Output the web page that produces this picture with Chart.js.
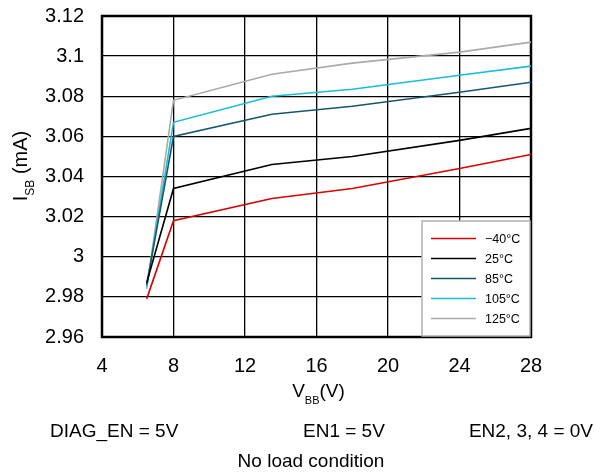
<!DOCTYPE html>
<html>
<head>
<meta charset="utf-8">
<script src="https://cdn.jsdelivr.net/npm/chart.js@4"></script>
<style>
  html, body { margin: 0; padding: 0; background: #fff; }
  #wrap { width: 595px; height: 474px; position: relative; }
</style>
</head>
<body>
<div id="wrap"><canvas id="c" width="595" height="474"></canvas></div>
<script>
// supply voltage, V
const vbb = [6.5, 8, 13.5, 18, 24, 28];
// standby current, mA
const iM40 = [2.979, 3.018, 3.029, 3.034, 3.044, 3.051];
const i25 = [2.987, 3.034, 3.046, 3.050, 3.058, 3.064];
const i85 = [2.986, 3.060, 3.071, 3.075, 3.082, 3.087];
const i105 = [2.985, 3.067, 3.080, 3.0835, 3.0905, 3.095];
const i125 = [2.984, 3.078, 3.091, 3.0965, 3.102, 3.107];

const seriesNames = ['\u221240\u00b0C', '25\u00b0C', '85\u00b0C', '105\u00b0C', '125\u00b0C'];
const seriesColors = ['#d90000', '#000000', '#17566b', '#16bfd6', '#aaaaaa'];

const xTicks = [4, 8, 12, 16, 20, 24, 28];
const yTicks = [2.96, 2.98, 3, 3.02, 3.04, 3.06, 3.08, 3.1, 3.12];

const FONT = "'Liberation Sans', Arial, sans-serif";

const pts = ys => vbb.map((x, i) => ({ x, y: ys[i] }));

// text with a subscript piece: [main, sub, rest]
function subText(ctx, parts, size, subSize) {
  const [a, b, c] = parts;
  ctx.font = `${size}px ${FONT}`;
  const wa = ctx.measureText(a).width, wc = ctx.measureText(c).width;
  ctx.font = `${subSize}px ${FONT}`;
  const wb = ctx.measureText(b).width;
  return { w: wa + wb + wc, draw(x, y) {
    ctx.textAlign = 'left';
    ctx.textBaseline = 'alphabetic';
    ctx.font = `${size}px ${FONT}`;
    ctx.fillText(a, x, y);
    ctx.font = `${subSize}px ${FONT}`;
    ctx.fillText(b, x + wa, y + 7);
    ctx.font = `${size}px ${FONT}`;
    ctx.fillText(c, x + wa + wb, y);
  } };
}

const extras = {
  id: 'extras',
  beforeDatasetsDraw(chart) {
    const { ctx, chartArea: a } = chart;
    ctx.save();
    ctx.strokeStyle = '#000';
    ctx.lineWidth = 2.5;
    ctx.strokeRect(a.left, a.top, a.right - a.left, a.bottom - a.top);
    ctx.restore();
  },
  afterDraw(chart) {
    const { ctx, chartArea: a } = chart;
    ctx.save();
    ctx.fillStyle = '#000';

    // axis titles
    const xt = subText(ctx, ['V', 'BB', '(V)'], 19, 11);
    xt.draw((a.left + a.right) / 2 - xt.w / 2 + 2, 397);
    ctx.save();
    ctx.translate(27, 166);
    ctx.rotate(-Math.PI / 2);
    const yt = subText(ctx, ['I', 'SB', ' (mA)'], 20, 12);
    yt.draw(-yt.w / 2, 0);
    ctx.restore();

    // conditions
    ctx.font = `19px ${FONT}`;
    ctx.textBaseline = 'alphabetic';
    ctx.textAlign = 'left';
    ctx.fillText('DIAG_EN = 5V', 50, 437);
    ctx.fillText('EN1 = 5V', 303, 437);
    ctx.textAlign = 'right';
    ctx.fillText('EN2, 3, 4 = 0V', 593, 437);
    ctx.textAlign = 'center';
    ctx.fillText('No load condition', 311, 467);

    // legend
    const bx = 422, by = 221, bw = a.right - bx - 1, bh = a.bottom - by - 1;
    ctx.fillStyle = '#fff';
    ctx.fillRect(bx, by, bw, bh);
    ctx.strokeStyle = '#b0b0b0';
    ctx.lineWidth = 1.5;
    ctx.strokeRect(bx, by, bw, bh);
    ctx.font = `12.5px ${FONT}`;
    ctx.textAlign = 'left';
    ctx.textBaseline = 'middle';
    chart.data.datasets.forEach((ds, i) => {
      const y = 238.5 + i * 20;
      ctx.strokeStyle = ds.borderColor;
      ctx.lineWidth = 1.5;
      ctx.beginPath();
      ctx.moveTo(431, y);
      ctx.lineTo(476, y);
      ctx.stroke();
      ctx.fillStyle = '#000';
      ctx.fillText(ds.label, 485, y + 1);
    });
    ctx.restore();
  }
};

const allSeries = [iM40, i25, i85, i105, i125];

new Chart(document.getElementById('c'), {
  type: 'line',
  data: {
    datasets: allSeries.map((ys, i) => ({
      label: seriesNames[i],
      data: pts(ys),
      borderColor: seriesColors[i],
      borderWidth: 1.6,
      pointRadius: 0,
      tension: 0,
      fill: false,
    })),
  },
  options: {
    responsive: false,
    animation: false,
    layout: { padding: { top: 16, right: 64, left: 0, bottom: 0 } },
    plugins: { legend: { display: false }, tooltip: { enabled: false } },
    scales: {
      x: {
        type: 'linear',
        min: xTicks[0],
        max: xTicks[xTicks.length - 1],
        afterFit: s => { s.height = 137; s.paddingLeft = 0; s.paddingRight = 0; },
        afterBuildTicks: s => { s.ticks = xTicks.map(v => ({ value: v })); },
        ticks: { font: { family: FONT, size: 20 }, color: '#000', padding: 17, maxRotation: 0 },
        grid: { color: '#000', lineWidth: 1.3, drawTicks: false },
        border: { display: false },
      },
      y: {
        min: yTicks[0],
        max: yTicks[yTicks.length - 1],
        afterFit: s => { s.width = 102; s.paddingTop = 0; s.paddingBottom = 0; },
        afterBuildTicks: s => { s.ticks = yTicks.map(v => ({ value: v })); },
        ticks: {
          font: { family: FONT, size: 20 }, color: '#000', padding: 18,
          callback: v => String(Number(v.toFixed(2))),
        },
        grid: { color: '#000', lineWidth: 1.3, drawTicks: false },
        border: { display: false },
      },
    },
  },
  plugins: [extras],
});
</script>
</body>
</html>
